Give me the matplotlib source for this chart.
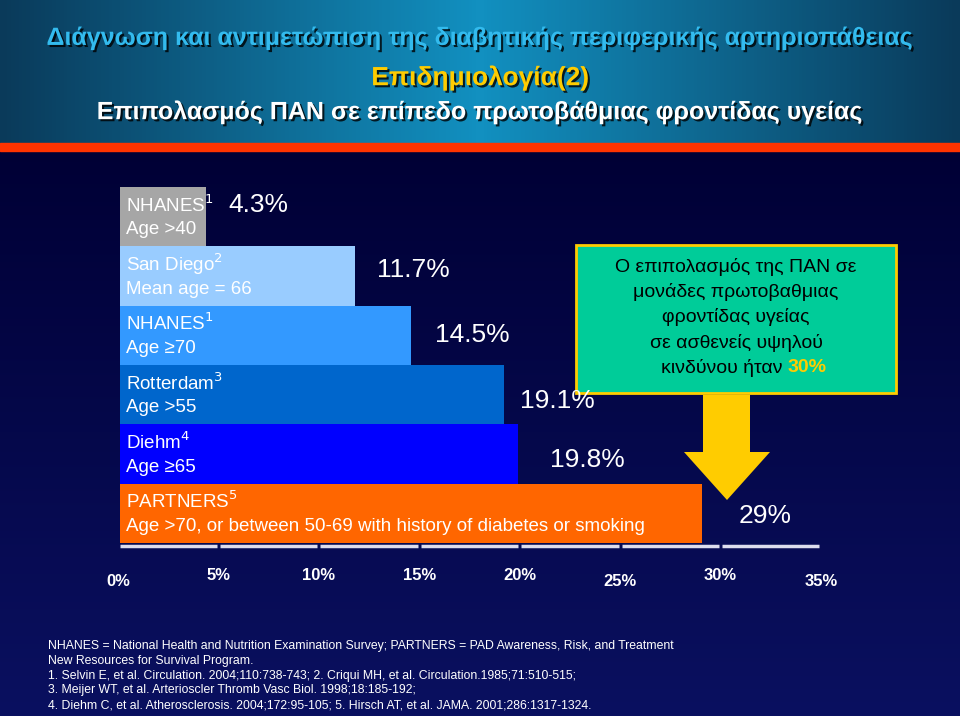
import matplotlib
matplotlib.use("Agg")
import matplotlib.pyplot as plt
import numpy as np
from matplotlib.patches import Rectangle, Polygon
import matplotlib.patheffects as pe

studies = ["NHANES", "San Diego", "NHANES", "Rotterdam", "Diehm", "PARTNERS"]
values = [4.3, 11.7, 14.5, 19.1, 19.8, 29.0]
value_labels = ["4.3%", "11.7%", "14.5%", "19.1%", "19.8%", "29%"]
colors = ["#A6A6A6", "#99CCFF", "#3399FF", "#0066CC", "#0000FF", "#FF6600"]
ticks = [0, 5, 10, 15, 20, 25, 30, 35]
tick_labels = ["0%", "5%", "10%", "15%", "20%", "25%", "30%", "35%"]

NAR = ["Liberation Sans", "DejaVu Sans"]
W, H = 960, 716
fig = plt.figure(figsize=(9.6, 7.16), dpi=100)
bg = fig.add_axes([0, 0, 1, 1])
bg.set_xlim(0, W); bg.set_ylim(H, 0); bg.axis("off")
grad = np.linspace(0, 1, 256).reshape(-1, 1)
bg.imshow(grad, extent=[0, W, H, 148], cmap=matplotlib.colors.LinearSegmentedColormap.from_list("n", ["#000035", "#0a1060"]), aspect="auto", zorder=0)
gx = np.abs(np.linspace(-1, 1, 256)).reshape(1, -1)
bg.imshow(gx, extent=[0, W, 145, 0], cmap=matplotlib.colors.LinearSegmentedColormap.from_list("t", ["#1290c0", "#0a3a5a"]), aspect="auto", zorder=0)
bg.add_patch(Rectangle((0, 143), W, 8, color="#FF3300", zorder=1))
sh = [pe.withSimplePatchShadow(offset=(1.5, -1.5), shadow_rgbFace="black", alpha=0.8)]
bg.text(480, 38, "Διάγνωση και αντιμετώπιση της διαβητικής περιφερικής αρτηριοπάθειας", color="#33BBEE",
        fontsize=18, fontweight="bold", ha="center", va="center", family=NAR, path_effects=sh)
bg.text(480, 78, "Επιδημιολογία(2)", color="#FFCC00", fontsize=19, fontweight="bold", ha="center", va="center", family=NAR, path_effects=sh)
bg.text(480, 112, "Επιπολασμός ΠΑΝ σε επίπεδο πρωτοβάθμιας φροντίδας υγείας", color="white", fontsize=18,
        fontweight="bold", ha="center", va="center", family=NAR, path_effects=sh)

top, bot = 187, 543
left, right = 118, 821
ax = fig.add_axes([left / W, (H - bot) / H, (right - left) / W, (bot - top) / H])
ax.set_xlim(0, 35); ax.set_ylim(len(values), 0)
ax.axis("off")
ys = np.arange(len(values)) + 0.5
ax.barh(ys, values, height=1.0, color=colors, left=0.1)
labels = [("NHANES$^1$", "Age >40"), ("San Diego$^2$", "Mean age = 66"), ("NHANES$^1$", "Age ≥70"),
          ("Rotterdam$^3$", "Age >55"), ("Diehm$^4$", "Age ≥65"),
          ("PARTNERS$^5$", "Age >70, or between 50-69 with history of diabetes or smoking")]
for y, (a, b) in zip(ys, labels):
    ax.text(0.4, y - 0.2, a, color="white", fontsize=13.5, va="center", family=NAR)
    ax.text(0.4, y + 0.22, b, color="white", fontsize=13.5, va="center", family=NAR)
offs = [(1.2, -0.2), (1.2, -0.1), (1.3, 0.0), (0.9, 0.1), (1.7, 0.1), (1.9, 0.05)]
for y, v, t, (dx, dy) in zip(ys, values, value_labels, offs):
    ax.text(v + dx, y + dy, t, color="white", fontsize=19, va="center", family=NAR)
for t0, t1 in zip(ticks[:-1], ticks[1:]):
    ax.plot([t0 + 0.08, t1 - 0.08], [6.05, 6.05], color="#DDDDEE", lw=2.5, clip_on=False, solid_capstyle="butt")
for i, (t, l) in enumerate(zip(ticks, tick_labels)):
    ax.text(t, 6.55 + (0.1 if l in ("0%", "25%", "35%") else 0), l, color="white", fontsize=12, ha="center",
            va="center", fontweight="bold", family=NAR, clip_on=False)

bg.add_patch(Rectangle((576, 245), 320, 148, facecolor="#00CC99", edgecolor="#FFCC00", lw=2, zorder=2))
for s, yy in [("Ο επιπολασμός της ΠΑΝ σε", 267), ("μονάδες πρωτοβαθμιας", 292),
              ("φροντίδας υγείας", 317), ("σε ασθενείς υψηλού", 343)]:
    bg.text(736, yy, s, fontsize=14, ha="center", va="center", color="black", zorder=3, family=NAR)
bg.text(788, 368, "κινδύνου ήταν ", fontsize=14, ha="right", va="center", color="black", zorder=3, family=NAR)
bg.text(788, 368, "30%", fontsize=14, ha="left", va="center", color="#FFCC00", zorder=3, fontweight="bold", family=NAR)
bg.add_patch(Polygon([(703, 395), (750, 395), (750, 452), (770, 452), (727, 500), (684, 452), (703, 452)],
                     closed=True, facecolor="#FFCC00", edgecolor="none", zorder=2))

fn = ["NHANES = National Health and Nutrition Examination Survey; PARTNERS = PAD Awareness, Risk, and Treatment",
      "New Resources for Survival Program.",
      "1. Selvin E, et al. Circulation. 2004;110:738-743; 2. Criqui MH, et al. Circulation.1985;71:510-515;",
      "3. Meijer WT, et al. Arterioscler Thromb Vasc Biol. 1998;18:185-192;",
      "4. Diehm C, et al. Atherosclerosis. 2004;172:95-105; 5. Hirsch AT, et al. JAMA. 2001;286:1317-1324."]
for i, s in enumerate(fn):
    bg.text(48, 646 + i * 14.8, s, color="white", fontsize=8.8, va="center", family=NAR)

fig.savefig("out.png", dpi=100, facecolor="#000035")
